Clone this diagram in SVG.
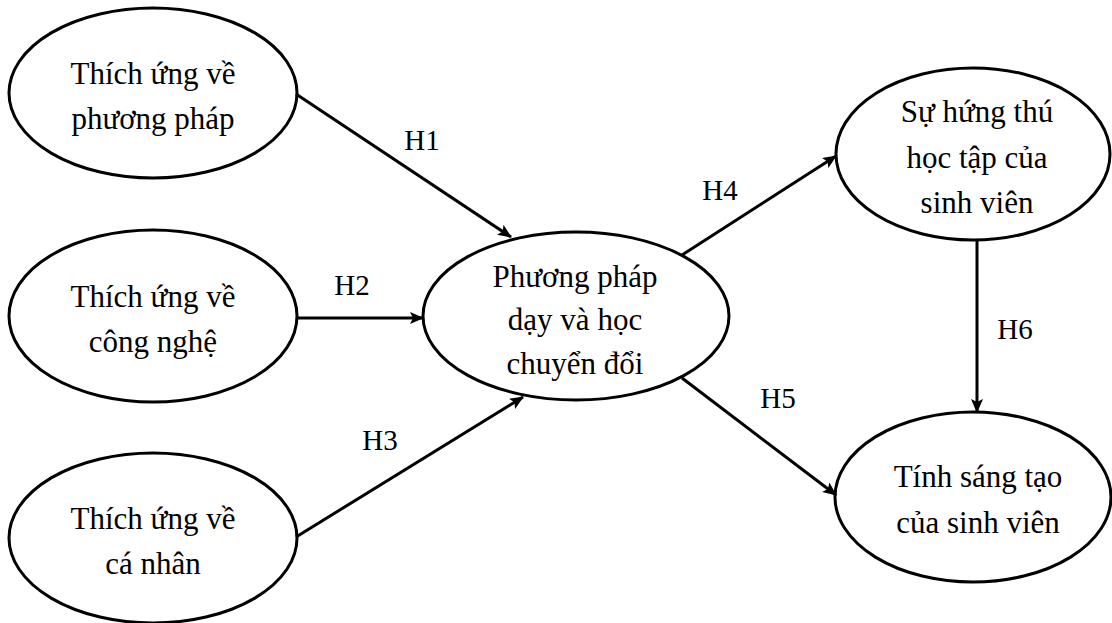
<svg xmlns="http://www.w3.org/2000/svg" width="1112" height="623" viewBox="0 0 1112 623">
<defs>
<style>
.node{fill:#fff;stroke:#000;stroke-width:3}
.t{font-family:"Liberation Serif","Times New Roman",serif;font-size:31px;fill:#000;text-anchor:middle}
.lbl{font-family:"Liberation Serif","Times New Roman",serif;font-size:29px;fill:#000;text-anchor:middle}
.edge{stroke:#000;stroke-width:3;fill:none;marker-end:url(#arr)}
</style>
<marker id="arr" markerUnits="userSpaceOnUse" markerWidth="14" markerHeight="12" refX="13" refY="6" orient="auto">
<path d="M0,0 L14,6 L0,12 L3,6 z" fill="#000"/>
</marker>
</defs>
<rect width="1112" height="623" fill="#fff"/>
<g id="n1">
<ellipse class="node" cx="153" cy="93" rx="144" ry="85"/>
<text class="t" x="153" y="84">Thích ứng về</text>
<text class="t" x="153" y="129">phương pháp</text>
</g>
<g id="n2">
<ellipse class="node" cx="153" cy="316" rx="144" ry="86"/>
<text class="t" x="153" y="307">Thích ứng về</text>
<text class="t" x="153" y="352">công nghệ</text>
</g>
<g id="n3">
<ellipse class="node" cx="153" cy="538" rx="144" ry="85"/>
<text class="t" x="153" y="529">Thích ứng về</text>
<text class="t" x="153" y="574">cá nhân</text>
</g>
<g id="n4">
<ellipse class="node" cx="576" cy="316" rx="153" ry="84"/>
<text class="t" x="575" y="287">Phương pháp</text>
<text class="t" x="575" y="330">dạy và học</text>
<text class="t" x="575" y="374">chuyển đổi</text>
</g>
<g id="n5">
<ellipse class="node" cx="973" cy="154" rx="137" ry="86"/>
<text class="t" x="977" y="122">Sự hứng thú</text>
<text class="t" x="977" y="168">học tập của</text>
<text class="t" x="977" y="213">sinh viên</text>
</g>
<g id="n6">
<ellipse class="node" cx="973" cy="497" rx="138" ry="85"/>
<text class="t" x="978" y="487">Tính sáng tạo</text>
<text class="t" x="978" y="533">của sinh viên</text>
</g>
<g id="connectors">
<line class="edge" x1="296" y1="94" x2="511" y2="237"/>
<line class="edge" x1="297" y1="318" x2="423" y2="318"/>
<line class="edge" x1="296" y1="537" x2="523" y2="397"/>
<line class="edge" x1="682" y1="255" x2="836" y2="156"/>
<line class="edge" x1="682" y1="378" x2="836" y2="495"/>
<line class="edge" x1="977" y1="240" x2="977" y2="412"/>
<text class="lbl" x="422" y="150">H1</text>
<text class="lbl" x="352" y="295">H2</text>
<text class="lbl" x="380" y="450">H3</text>
<text class="lbl" x="720" y="200">H4</text>
<text class="lbl" x="778" y="408">H5</text>
<text class="lbl" x="1015" y="339">H6</text>
</g>
</svg>
